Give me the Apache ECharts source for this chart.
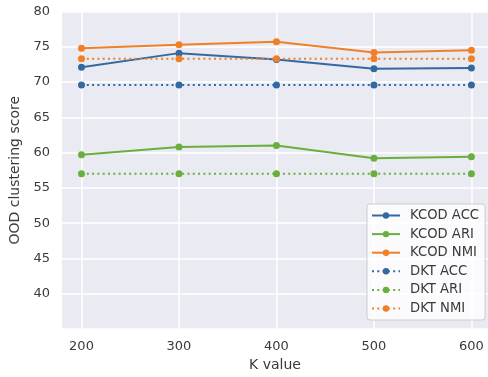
<!DOCTYPE html>
<html style="height:100%">
<head>
<meta charset="utf-8">
<script src="https://cdn.jsdelivr.net/npm/echarts@6/dist/echarts.min.js"></script>
</head>
<body style="height:100%; margin:0; background:#fff">
<div id="container" style="width:488px; height:377px"></div>
<script type="text/javascript">
// K values on the x axis
var kValues = [200, 300, 400, 500, 600];
// scores
var kcodAcc = [72.1, 74.1, 73.2, 71.9, 72.0];
var kcodAri = [59.7, 60.8, 61.0, 59.2, 59.4];
var kcodNmi = [74.8, 75.3, 75.7, 74.2, 74.5];
var dktAcc = [69.6, 69.6, 69.6, 69.6, 69.6];
var dktAri = [57.0, 57.0, 57.0, 57.0, 57.0];
var dktNmi = [73.3, 73.3, 73.3, 73.3, 73.3];

var blue = '#3369a0', green = '#6aaf3d', orange = '#f07f26';
var font = 'DejaVu Sans';

function pairs(vals) {
    return kValues.map(function (k, i) { return [k, vals[i]]; });
}

function makeSeries(name, vals, color, dotted) {
    return {
        name: name,
        type: 'line',
        data: pairs(vals),
        symbol: 'circle',
        symbolSize: 7,
        showSymbol: true,
        color: color,
        itemStyle: { color: color },
        lineStyle: {
            color: color,
            width: 2,
            type: dotted ? [2, 3.3] : 'solid',
            cap: 'butt'
        },
        emphasis: { disabled: true },
        animation: false
    };
}

var chart = echarts.init(document.getElementById('container'));
var option = {
    backgroundColor: '#fff',
    grid: {
        left: 62, right: 0, top: 11.5, bottom: 46.5,
        show: true, backgroundColor: '#eaeaf2', borderWidth: 0
    },
    xAxis: {
        type: 'value',
        min: 180,
        max: 617,
        name: 'K value',
        nameLocation: 'middle',
        nameGap: 29,
        nameTextStyle: { fontFamily: font, fontSize: 14, color: '#3a3a3a' },
        axisLine: { show: false },
        axisTick: { show: false, customValues: kValues },
        axisLabel: {
            customValues: kValues,
            fontFamily: font, fontSize: 13, color: '#3a3a3a', margin: 11
        },
        splitLine: { show: true, lineStyle: { color: '#fff', width: 1.5 } }
    },
    yAxis: {
        type: 'value',
        min: 35,
        max: 80,
        interval: 5,
        name: 'OOD clustering score',
        nameLocation: 'middle',
        nameGap: 34,
        nameTextStyle: { fontFamily: font, fontSize: 14, color: '#3a3a3a' },
        axisLine: { show: false },
        axisTick: { show: false },
        axisLabel: {
            showMinLabel: false,
            fontFamily: font, fontSize: 13, color: '#3a3a3a', margin: 12
        },
        splitLine: { show: true, lineStyle: { color: '#fff', width: 1.5 } }
    },
    legend: {
        orient: 'vertical',
        left: 367,
        top: 204,
        padding: [5, 6, 5, 4],
        itemWidth: 28,
        itemHeight: 8,
        itemGap: 5.6,
        backgroundColor: 'rgba(255,255,255,0.8)',
        borderColor: '#cccccc',
        borderWidth: 1,
        borderRadius: 3,
        textStyle: {
            fontFamily: font, fontSize: 13.2, color: '#3a3a3a',
            lineHeight: 12, padding: [0, 0, 0, 5]
        },
        data: ['KCOD ACC', 'KCOD ARI', 'KCOD NMI', 'DKT ACC', 'DKT ARI', 'DKT NMI']
    },
    series: [
        makeSeries('KCOD ACC', kcodAcc, blue, false),
        makeSeries('KCOD ARI', kcodAri, green, false),
        makeSeries('KCOD NMI', kcodNmi, orange, false),
        makeSeries('DKT ACC', dktAcc, blue, true),
        makeSeries('DKT ARI', dktAri, green, true),
        makeSeries('DKT NMI', dktNmi, orange, true)
    ]
};
chart.setOption(option);
</script>
</body>
</html>
